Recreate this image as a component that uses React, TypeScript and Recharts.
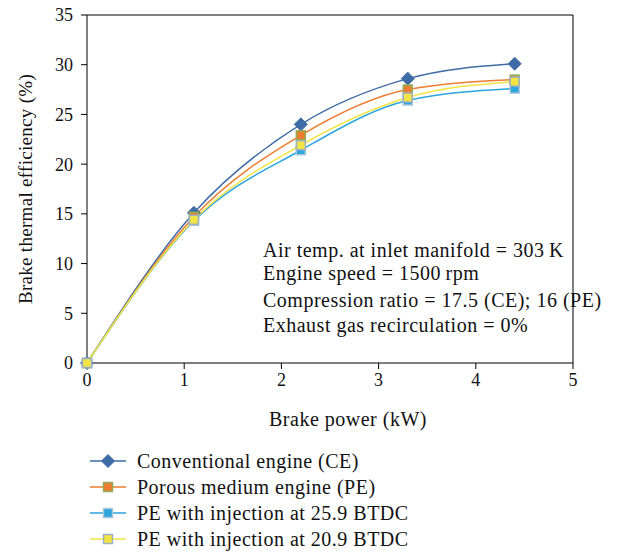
import { LineChart, Line, XAxis, YAxis, ReferenceLine } from "recharts";

const brakePower = [0, 1.1, 2.2, 3.3, 4.4];
const conventional = [0, 15.1, 24.0, 28.6, 30.1];
const porous = [0, 14.7, 22.9, 27.5, 28.5];
const inj259 = [0, 14.3, 21.4, 26.4, 27.6];
const inj209 = [0, 14.4, 21.9, 26.7, 28.3];

const xTicks = [0, 1, 2, 3, 4, 5];
const yTicks = [0, 5, 10, 15, 20, 25, 30, 35];

const notes = [
  "Air temp. at inlet manifold = 303\u2009K",
  "Engine speed = 1500\u2009rpm",
  "Compression ratio = 17.5 (CE); 16 (PE)",
  "Exhaust gas recirculation = 0%",
];
// baseline-ish centre of each note line, top to bottom
const noteRows = [250, 273, 300, 325];

const FONT = "'Liberation Serif', 'DejaVu Serif', serif";

const series = [
  { key: "ce", name: "Conventional engine (CE)", values: conventional, color: "#3E6BA6", marker: "diamond", fill: "#3E6BA6", edge: "#3E6BA6" },
  { key: "pe", name: "Porous medium engine (PE)", values: porous, color: "#ED7D31", marker: "square", fill: "#ED7D31", edge: "#8FAE55" },
  { key: "i259", name: "PE with injection at 25.9 BTDC", values: inj259, color: "#2AA5DE", marker: "square", fill: "#2AA5DE", edge: "#A9C6DA" },
  { key: "i209", name: "PE with injection at 20.9 BTDC", values: inj209, color: "#F2E443", marker: "square", fill: "#F2E443", edge: "#9DB0C6" },
];

const data = brakePower.map((x, i) => {
  const row: Record<string, number> = { x };
  series.forEach((s) => (row[s.key] = s.values[i]));
  return row;
});

const textStyle = { fontSize: 20, letterSpacing: 0.5, color: "#111" };

function Marker({ cx, cy, kind, fill, edge }: any) {
  if (cx == null || cy == null) return null;
  if (kind === "diamond") {
    const r = 6.5;
    return (
      <polygon
        points={`${cx},${cy - r} ${cx + r},${cy} ${cx},${cy + r} ${cx - r},${cy}`}
        fill={fill}
        stroke={edge}
        strokeWidth={1}
      />
    );
  }
  const h = 4.5;
  return (
    <rect x={cx - h} y={cy - h} width={h * 2} height={h * 2} fill={fill} stroke={edge} strokeWidth={1.5} />
  );
}

export default function App() {
  return (
    <div style={{ position: "relative", width: 623, height: 556, background: "#fff", fontFamily: FONT }}>
      <style>{`body{margin:0}`}</style>
      <LineChart width={623} height={440} data={data} margin={{ top: 15, right: 50, left: 0, bottom: 0 }}>
        <XAxis
          dataKey="x"
          type="number"
          domain={[0, 5]}
          ticks={xTicks}
          stroke="#000"
          tickSize={6}
          tickMargin={4}
          height={77}
          tick={{ fill: "#111", fontSize: 18, fontFamily: FONT }}
          label={{ value: "Brake power (kW)", position: "insideBottom", offset: 14, dx: 18, fill: "#111", fontSize: 20, letterSpacing: 0.5, fontFamily: FONT }}
        />
        <YAxis
          type="number"
          domain={[0, 35]}
          ticks={yTicks}
          stroke="#000"
          tickSize={6}
          tickMargin={8}
          width={87}
          tick={{ fill: "#111", fontSize: 18, fontFamily: FONT }}
          label={{ value: "Brake thermal efficiency (%)", angle: -90, position: "center", dx: -18, fill: "#111", fontSize: 19, letterSpacing: 0.3, fontFamily: FONT }}
        />
        <ReferenceLine y={35} stroke="#000" strokeWidth={1} />
        <ReferenceLine x={5} stroke="#000" strokeWidth={1} />
        {series.map((s) => (
          <Line
            key={s.key}
            dataKey={s.key}
            name={s.name}
            type="monotone"
            stroke={s.color}
            strokeWidth={1.5}
            isAnimationActive={false}
            dot={(p: any) => <Marker key={`${s.key}-${p.index}`} cx={p.cx} cy={p.cy} kind={s.marker} fill={s.fill} edge={s.edge} />}
            activeDot={false}
          />
        ))}
      </LineChart>

      {notes.map((n, i) => (
        <div
          key={n}
          style={{ ...textStyle, position: "absolute", left: 263, top: noteRows[i] - 12, lineHeight: "24px", whiteSpace: "nowrap" }}
        >
          {n}
        </div>
      ))}

      <div style={{ ...textStyle, position: "absolute", left: 88, top: 448 }}>
        {series.map((s) => (
          <div key={s.key} style={{ display: "flex", alignItems: "center", height: 26 }}>
            <svg width={40} height={20} style={{ marginRight: 9 }}>
              <line x1={2} y1={10} x2={38} y2={10} stroke={s.color} strokeWidth={1.5} />
              <Marker cx={20} cy={10} kind={s.marker} fill={s.fill} edge={s.edge} />
            </svg>
            <span style={{ whiteSpace: "nowrap" }}>{s.name}</span>
          </div>
        ))}
      </div>
    </div>
  );
}
